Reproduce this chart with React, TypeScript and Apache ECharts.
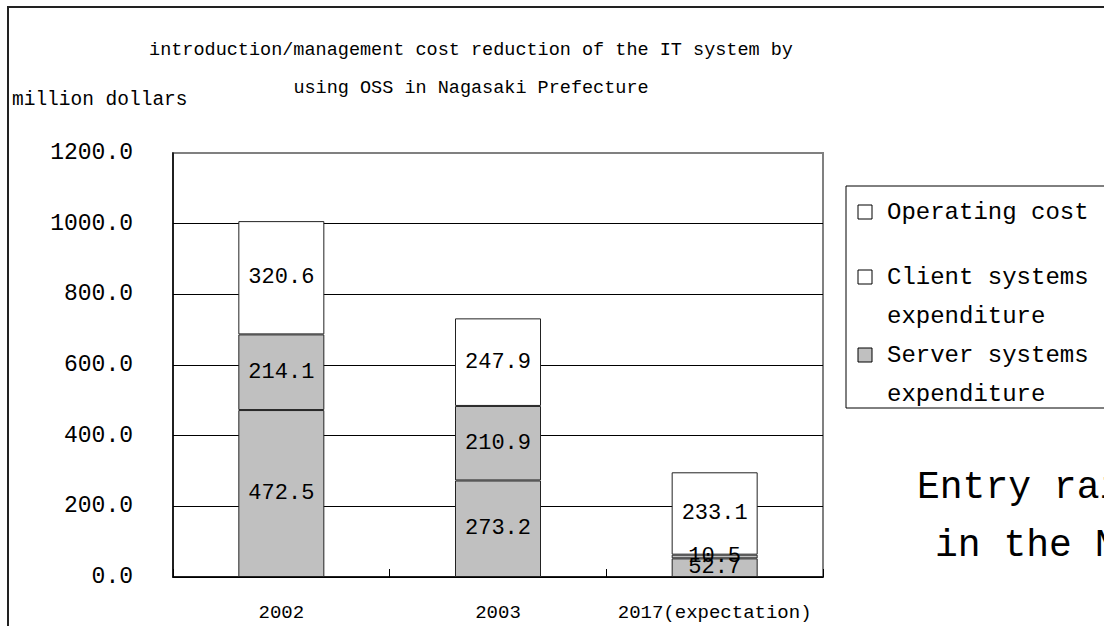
import React, { useEffect, useRef } from "react";
import * as echarts from "echarts";

const categories = ["2002", "2003", "2017(expectation)"];
const serverValues = [472.5, 273.2, 52.7];
const clientValues = [214.1, 210.9, 10.5];
const operatingValues = [320.6, 247.9, 233.1];
const seriesNames = ["Server systems\nexpenditure", "Client systems\nexpenditure", "Operating cost"];
const legendLabels = ["Operating cost", "Client systems\nexpenditure", "Server systems\nexpenditure"];
const yTicks = [0, 200, 400, 600, 800, 1000, 1200];
const titleText = "introduction/management cost reduction of the IT system by\nusing OSS in Nagasaki Prefecture";
const yUnit = "million dollars";
const sideText = ["Entry rai", "in the N"];

const FONT = "Liberation Mono, DejaVu Sans Mono, monospace";
const GRAY = "#c0c0c0";

export default function App() {
  const ref = useRef<HTMLDivElement>(null);
  useEffect(() => {
    if (!ref.current) return;
    const chart = echarts.init(ref.current, undefined, { renderer: "svg" });
    const barCommon = (name: string, data: number[], color: string) => ({
      name,
      type: "bar",
      stack: "total",
      data,
      barWidth: 86,
      itemStyle: { color, borderColor: "#222", borderWidth: 1 },
      label: {
        show: true,
        position: "inside",
        color: "#000",
        fontFamily: FONT,
        fontSize: 22,
        formatter: (p: any) => Number(p.value).toFixed(1),
      },
    });
    const legendColors = ["#ffffff", "#ffffff", GRAY];
    const legendRows = [212, 277, 355];
    const legendGraphics: any[] = [
      {
        type: "rect",
        shape: { x: 846, y: 186, width: 400, height: 222 },
        style: { fill: "#fff", stroke: "#000", lineWidth: 1 },
      },
    ];
    legendLabels.forEach((lab, i) => {
      legendGraphics.push({
        type: "rect",
        shape: { x: 858, y: legendRows[i] - 7, width: 14, height: 14 },
        style: { fill: legendColors[i], stroke: "#000", lineWidth: 1 },
      });
      legendGraphics.push({
        type: "text",
        x: 887,
        y: legendRows[i] - 19,
        style: {
          text: lab,
          fontFamily: FONT,
          fontSize: 24,
          lineHeight: i === 0 ? 38 : 39,
          fill: "#000",
          textVerticalAlign: "top",
        },
      });
    });

    chart.setOption({
      animation: false,
      backgroundColor: "#fff",
      title: {
        text: titleText,
        left: 466,
        top: 26,
        textAlign: "center",
        textStyle: {
          fontFamily: FONT,
          fontSize: 18.5,
          lineHeight: 38,
          fontWeight: "normal",
          color: "#000",
        },
      },
      grid: {
        left: 173,
        right: 281,
        top: 153,
        bottom: 49,
        show: true,
        borderColor: "#808080",
        borderWidth: 2,
        backgroundColor: "transparent",
      },
      xAxis: {
        type: "category",
        data: categories,
        axisLine: { lineStyle: { color: "#000", width: 1.5 } },
        axisTick: { show: true, inside: true, length: 8, interval: 0, lineStyle: { color: "#000" } },
        axisLabel: { fontFamily: FONT, fontSize: 19, color: "#000", margin: 26, interval: 0 },
      },
      yAxis: {
        type: "value",
        min: yTicks[0],
        max: yTicks[yTicks.length - 1],
        interval: 200,
        axisLine: { show: true, lineStyle: { color: "#000", width: 1.5 } },
        axisTick: { show: false },
        splitLine: { show: true, showMaxLine: false, lineStyle: { color: "#000", width: 1 } },
        axisLabel: {
          fontFamily: FONT,
          fontSize: 23,
          color: "#000",
          margin: 40,
          padding: [6, 0, 0, 0],
          formatter: (v: number) => v.toFixed(1),
        },
      },
      series: [
        barCommon(seriesNames[0], serverValues, GRAY),
        barCommon(seriesNames[1], clientValues, GRAY),
        barCommon(seriesNames[2], operatingValues, "#ffffff"),
      ],
      graphic: [
        {
          type: "rect",
          shape: { x: 8, y: 7, width: 1300, height: 800 },
          style: { fill: "none", stroke: "#222", lineWidth: 2 },
          z: 100,
        },
        {
          type: "text",
          x: 12,
          y: 100,
          style: {
            text: yUnit,
            fontFamily: FONT,
            fontSize: 19.5,
            fill: "#000",
            textVerticalAlign: "middle",
          },
        },
        ...legendGraphics,
        {
          type: "text",
          x: 917,
          y: 487,
          style: { text: sideText[0], fontFamily: FONT, fontSize: 38, fill: "#000", textVerticalAlign: "middle" },
        },
        {
          type: "text",
          x: 935,
          y: 545,
          style: { text: sideText[1], fontFamily: FONT, fontSize: 38, fill: "#000", textVerticalAlign: "middle" },
        },
      ],
    });
    return () => chart.dispose();
  }, []);
  return (
    <div
      ref={ref}
      style={{ position: "absolute", left: 0, top: 0, width: 1104, height: 626 }}
    />
  );
}
